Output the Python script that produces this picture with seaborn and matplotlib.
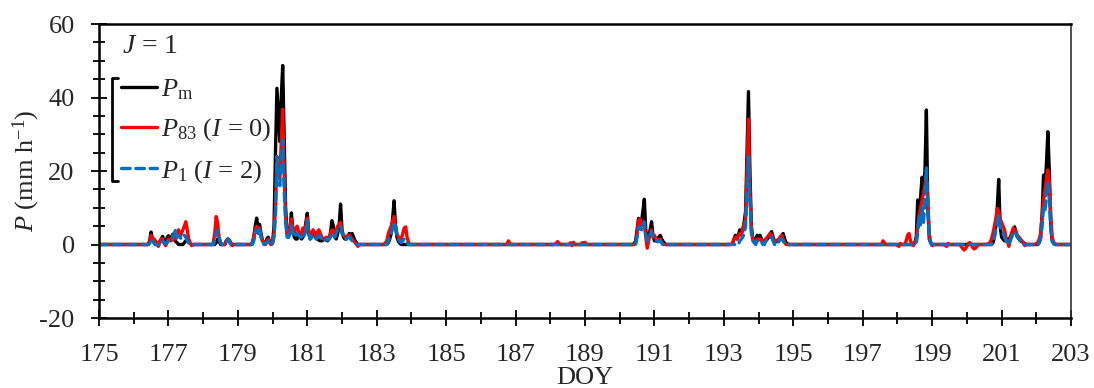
import numpy as np
import pandas as pd
import seaborn as sns
import matplotlib
matplotlib.use("Agg")
import matplotlib.pyplot as plt
import matplotlib.font_manager as fm
from matplotlib.lines import Line2D
from matplotlib.ticker import MultipleLocator

# ---------------- data (hourly, index = hours after DOY 175.0) ----------------
doy_start = 175
doy_end = 203
n_hours = (doy_end - doy_start) * 24 + 1

# measured precipitation P_m : {start hour: [hourly values mm/h]}
pm_events = {
    35: [1.0, 3.4, 1.5, 0.5],
    42: [0.8, 1.5, 2.2, 1.0, 0.5, 1.8, 2.4, 1.2, 2.0, 2.8, 1.5, 0.8, 0.5],
    59: [0.5, 1.0, 1.2, 0.8, 0.3],
    81: [0.5, 1.5, 0.8],
    88: [1.0, 1.5, 1.2, 0.5],
    106: [0.5, 2.0, 5.0, 7.2, 4.0, 5.5, 3.0, 1.0, 0.5, 0.3, 1.5, 2.0, 0.5],
    120: [0.5, 5, 25, 42.5, 35, 28, 40, 48.7, 30, 10, 3, 2, 4, 8.6, 4, 2, 1.5, 1.5,
          3, 2, 1.5, 2, 3, 6, 8.5, 3, 1.5, 2, 3, 2.5, 2, 1.5, 1.2, 1, 1, 1.2, 1.5,
          1.2, 1, 1.5, 3, 6.5, 5, 2, 1.5, 3, 5, 11, 4, 2, 1.5, 1.5, 2, 3, 2.5, 3,
          2, 1, 0.5],
    200: [0.5, 1.5, 3, 7, 11.9, 5, 2, 0.8, 0.3],
    370: [0.3, 1, 4, 7.1, 7, 6, 9, 12.3, 4, 1, 2, 4, 6.2, 2.5, 1, 1, 1.5, 2, 2.5,
          1.5, 0.8, 0.3],
    438: [0.3, 1.5, 2.5, 1.5, 2.5, 4, 3, 4, 6, 9, 25, 41.6, 20, 5, 1.5, 1, 1.5,
          2.5, 1.5, 2.5, 1.5, 1, 0.8, 1, 1.5, 2, 3, 3.5, 2, 1, 0.8, 0.8, 1, 2,
          2.5, 3, 1.5, 0.5, 0.2],
    564: [0.5, 2, 12.1, 10, 13, 18.3, 15, 20, 36.6, 10, 1.5, 0.5],
    618: [0.5, 2, 5, 10, 17.7, 5, 2, 1.5, 1, 1, 1.5, 1.5, 2, 3, 4, 4.8, 3, 2,
          1.5, 1, 0.8, 0.5, 0.3],
    650: [0.5, 2, 8, 18.9, 15, 22, 30.7, 20, 5, 1, 0.3],
}

# P_83 (I = 0)
p83_events = {
    35: [0.5, 2.5, 1.8, 1.5, 1.0, 0.5, -0.5, 0.5, 1.5, 1.5, 0.5, -0.3, 0.5, 1.5,
         1.2, 1.0, 2.5, 1.5, 1.5, 2.5, 4.0, 2.0, 3.0, 4.0, 5.0, 6.2, 4.0, 1.5,
         0.5, -0.3],
    79: [0.5, 3, 7.6, 6, 2, 0.5],
    88: [1.0, 1.5, 1.0, 0.5, -0.3],
    106: [0.5, 2, 4, 5, 3.5, 4.5, 2.5, 1, 0.5, 0, 1, 1.5, 0.5],
    120: [0.5, 3, 10, 22, 20, 18, 28, 36.8, 20, 8, 3, 2.5, 4, 7, 4, 3, 4.5, 5,
          3.5, 2.5, 3, 4.5, 3, 5, 7.2, 3.5, 2, 3, 4, 3, 2, 3.5, 4, 3, 2, 1.5, 1.5,
          2, 1.5, 2, 3, 4, 3.5, 2.5, 4, 5, 5.5, 6, 3.5, 2.5, 2, 2, 2.5, 2.5, 2,
          1.5, 1, 0.5, 0.2, -0.5],
    198: [0.5, 1, 3, 4, 5, 6.5, 7.6, 5, 3, 2, 1.5, 1.5, 3, 4.5, 4.8, 2, 0.5],
    283: [1.0, 0.3],
    316: [0.3, 0.8, 0.3],
    326: [0.5, -0.3, 0.6],
    334: [0.5, 0.3, 0.6],
    371: [0.5, 3, 6.5, 7, 5, 6, 5.5, 2, -1, 1, 3, 4, 2, 2.5, 1.5, 1, 1, 1.5,
          0.5],
    438: [0.3, 1.5, 2, 1.5, 2.5, 3, 2.5, 4, 5.5, 7, 20, 34.1, 15, 4, 1.5, 0.5,
          1, 1.5, 1.2, 1.5, 1, 0.8, 1, 1.5, 2, 2.5, 3, 2.5, 1.5, 0.8, 1, 1.2,
          1.5, 2, 2.5, 1.5, 0.5],
    542: [1.0, 0.5],
    552: [-0.3, -0.5, 0.3],
    558: [1, 2.5, 3, 1, 0.3, -0.3],
    564: [0.5, 1.5, 5, 8, 10, 12, 14, 16, 19, 12, 3, 0.5, -0.3],
    585: [-0.3, -0.5, 0.3],
    596: [-0.5, -1, -1.5, -1.2, -0.5, 0.3, 0.5, 0.2, -0.8, -1.2, -1.0, -0.5],
    615: [0.3, 0.5, 1.5, 3, 5, 7, 9.8, 9, 7, 6, 5, 4, 2, 1, -0.5, 1.5, 3, 4.5,
          4, 3.5, 2.5, 2, 1.5, 1, 0.5, -0.3],
    648: [0.3, 0.5, 1.5, 3, 8, 12, 15, 18, 20.3, 17, 8, 2, 0.5, 0.3],
}

# P_1 (I = 2)
p1_events = {
    35: [0.3, 1.5, 1.0, 0.5],
    43: [0.8, 1.0, 0.3, 0.3, 0.5, 1.0, 0.8, 1.0, 1.5, 3.0, 4.0, 2.0, 2.5, 2.0,
         1.5, 2.0, 2.5, 2.0, 1.0, 0.3],
    80: [1, 3, 4, 2, 0.5],
    88: [0.5, 1.5, 0.8],
    107: [1, 3, 4, 3, 4.5, 2, 0.8, 0, 0, 0.5, 1.0],
    120: [0.3, 2, 8, 24, 18, 16, 22, 28.4, 15, 6, 2, 2, 3, 5, 3, 2, 2.5, 3, 2.5,
          2, 2, 3, 2.5, 4, 6.5, 3, 1.5, 2, 2.5, 2, 1.5, 2, 2.5, 2, 1.5, 1.2, 1,
          1.5, 1.2, 1.5, 2, 3, 2.5, 2, 3, 4, 4.5, 5, 3, 2, 1.5, 1.5, 2, 2, 1.5, 1,
          0.5, 0.3],
    200: [1, 2, 3, 4.5, 6, 5, 2.5, 1.5, 0.8, 0.5, 1, 1.5, 1, 0.3],
    372: [2, 4.5, 5, 4, 5, 6.2, 3, 1, 1.5, 2.5, 3.5, 2, 1.5, 1, 0.8, 0.8, 1,
          0.5],
    443: [1, 1.5, 2, 3, 5, 14, 23.9, 12, 3, 1, 0.5, 0, 1, 0.8, 1, 0.8, 0, 0, 1,
          1.2, 1.5, 2, 2, 1, 0, 0, 0, 0.8, 1.5, 1.5, 1, 0.3],
    565: [0.5, 3, 8, 5, 10, 6, 12, 21.2, 10, 2, 0.3],
    618: [0.5, 2, 4, 6, 8, 5, 4, 3, 2, 1, 0.5, 0, 1, 2, 3, 3.5, 3, 2, 1.5, 1,
          0.5],
    650: [0.5, 1.5, 5, 10, 9, 14, 17, 12, 4, 1, 0.3],
}

series_labels = [r"$P_{\mathrm{m}}$", r"$P_{83}$ ($I$ = 0)", r"$P_{1}$ ($I$ = 2)"]
series_colors = ["#000000", "#FF0000", "#0070C0"]
annotation = r"$J$ = 1"
x_ticks = list(range(175, 204, 2))
y_ticks = [-20, 0, 20, 40, 60]


def build(events):
    vals = np.zeros(n_hours)
    for start, seq in events.items():
        vals[start:start + len(seq)] = seq
    return vals


doy = doy_start + np.arange(n_hours) / 24.0
frames = []
for name, ev in zip(series_labels, [pm_events, p83_events, p1_events]):
    frames.append(pd.DataFrame({"DOY": doy, "P": build(ev), "series": name}))
df = pd.concat(frames, ignore_index=True)

# ---------------- fonts ----------------
for f in fm.findSystemFonts():
    low = f.lower()
    if any(k in low for k in ["liberation", "tinos", "nimbus", "times", "freeserif"]):
        try:
            fm.fontManager.addfont(f)
        except Exception:
            pass

serif_name = "DejaVu Serif"
for cand in ["Liberation Serif", "Times New Roman", "Tinos", "Nimbus Roman",
             "Nimbus Roman No9 L", "FreeSerif"]:
    try:
        fm.findfont(fm.FontProperties(family=cand), fallback_to_default=False)
        serif_name = cand
        break
    except Exception:
        continue

# ---------------- style ----------------
sns.set_style("ticks")
plt.rcParams["font.family"] = [serif_name, "DejaVu Serif"]
plt.rcParams["mathtext.fontset"] = "custom"
plt.rcParams["mathtext.rm"] = serif_name
plt.rcParams["mathtext.it"] = serif_name + ":italic"
plt.rcParams["mathtext.bf"] = serif_name + ":bold"
plt.rcParams["axes.unicode_minus"] = False

fig = plt.figure(figsize=(10.94, 3.88), dpi=100)
ax = fig.add_axes([0.0905, 0.1804, 0.8885, 0.7577])

styles = [dict(lw=2.4, ls="-"),
          dict(lw=2.4, ls="-"),
          dict(lw=2.4, ls=(0, (2.6, 1.7)), dash_capstyle="round")]
for name, col, st in zip(series_labels, series_colors, styles):
    sub = df[df["series"] == name]
    sns.lineplot(data=sub, x="DOY", y="P", color=col, label=name, ax=ax,
                 estimator=None, **st)

ax.set_xlim(doy_start, doy_end)
ax.set_ylim(-20, 60)
ax.set_xticks(x_ticks)
ax.set_yticks(y_ticks)
ax.xaxis.set_minor_locator(MultipleLocator(1))
ax.yaxis.set_minor_locator(MultipleLocator(5))
ax.tick_params(axis="both", which="major", direction="inout", length=11,
               width=1.3, labelsize=19, color="black")
ax.tick_params(axis="both", which="minor", direction="inout", length=9,
               width=1.3, color="black")
ax.tick_params(axis="x", pad=13)
ax.tick_params(axis="y", pad=12)

for side in ["left", "bottom", "top"]:
    ax.spines[side].set_linewidth(1.8)
    ax.spines[side].set_color("black")
ax.spines["right"].set_linewidth(1.2)
ax.spines["right"].set_color("#333333")

ax.set_xlabel("DOY", fontsize=19, labelpad=1)
ax.set_ylabel(r"$P$ (mm h$^{-1}$)", fontsize=19, labelpad=-2)

leg = ax.legend(loc="upper left", bbox_to_anchor=(0.012, 0.855), frameon=False,
                fontsize=19, handlelength=1.35, handletextpad=0.15,
                labelspacing=0.55, borderaxespad=0)

ax.text(0.024, 0.922, annotation, transform=ax.transAxes, fontsize=20,
        va="center", ha="left")

# bracket grouping the legend entries
bx0, bx1 = 0.0134, 0.0196
by0, by1 = 0.466, 0.816
ax.add_line(Line2D([bx1, bx0, bx0, bx1], [by1, by1, by0, by0],
                   transform=ax.transAxes, color="black", lw=2, clip_on=False))

fig.savefig("out.png", dpi=100)
